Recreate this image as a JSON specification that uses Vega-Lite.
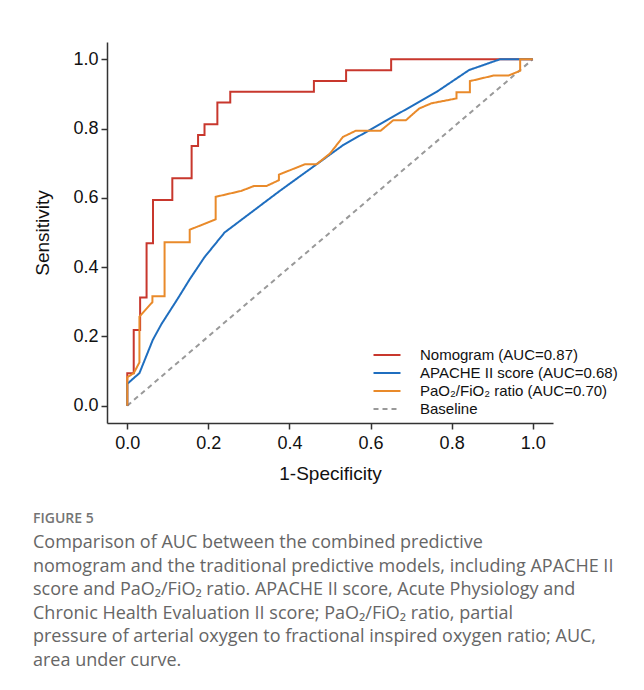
{
  "$schema": "https://vega.github.io/schema/vega-lite/v6.json",
  "width": 446,
  "height": 381,
  "autosize": {"type": "none"},
  "padding": {"left": 107, "top": 42, "right": 91, "bottom": 267},
  "background": "white",
  "title": {
    "text": "FIGURE 5",
    "subtitle": [
      "Comparison of AUC between the combined predictive",
      "nomogram and the traditional predictive models, including APACHE II",
      "score and PaO₂/FiO₂ ratio. APACHE II score, Acute Physiology and",
      "Chronic Health Evaluation II score; PaO₂/FiO₂ ratio, partial",
      "pressure of arterial oxygen to fractional inspired oxygen ratio; AUC,",
      "area under curve."
    ],
    "orient": "bottom",
    "anchor": "start",
    "frame": "group",
    "dx": -74,
    "offset": 29,
    "font": "Open Sans",
    "fontSize": 14,
    "fontWeight": 600,
    "color": "#747474",
    "subtitleFont": "Open Sans",
    "subtitleFontSize": 18,
    "subtitleFontWeight": "normal",
    "subtitleColor": "#666666",
    "subtitleLineHeight": 23.6,
    "subtitlePadding": 8
  },
  "data": {
    "values": [
      {"series": "Baseline", "i": 0, "x": 0, "y": 0},
      {"series": "Baseline", "i": 1, "x": 1, "y": 1},
      {"series": "Nomogram (AUC=0.87)", "i": 0, "x": 0, "y": 0},
      {"series": "Nomogram (AUC=0.87)", "i": 1, "x": 0, "y": 0.0938},
      {"series": "Nomogram (AUC=0.87)", "i": 2, "x": 0.0159, "y": 0.0938},
      {"series": "Nomogram (AUC=0.87)", "i": 3, "x": 0.0159, "y": 0.2188},
      {"series": "Nomogram (AUC=0.87)", "i": 4, "x": 0.0317, "y": 0.2188},
      {"series": "Nomogram (AUC=0.87)", "i": 5, "x": 0.0317, "y": 0.3125},
      {"series": "Nomogram (AUC=0.87)", "i": 6, "x": 0.0476, "y": 0.3125},
      {"series": "Nomogram (AUC=0.87)", "i": 7, "x": 0.0476, "y": 0.4688},
      {"series": "Nomogram (AUC=0.87)", "i": 8, "x": 0.0635, "y": 0.4688},
      {"series": "Nomogram (AUC=0.87)", "i": 9, "x": 0.0635, "y": 0.5938},
      {"series": "Nomogram (AUC=0.87)", "i": 10, "x": 0.1111, "y": 0.5938},
      {"series": "Nomogram (AUC=0.87)", "i": 11, "x": 0.1111, "y": 0.6563},
      {"series": "Nomogram (AUC=0.87)", "i": 12, "x": 0.1587, "y": 0.6563},
      {"series": "Nomogram (AUC=0.87)", "i": 13, "x": 0.1587, "y": 0.75},
      {"series": "Nomogram (AUC=0.87)", "i": 14, "x": 0.1746, "y": 0.75},
      {"series": "Nomogram (AUC=0.87)", "i": 15, "x": 0.1746, "y": 0.7813},
      {"series": "Nomogram (AUC=0.87)", "i": 16, "x": 0.1905, "y": 0.7813},
      {"series": "Nomogram (AUC=0.87)", "i": 17, "x": 0.1905, "y": 0.8125},
      {"series": "Nomogram (AUC=0.87)", "i": 18, "x": 0.2222, "y": 0.8125},
      {"series": "Nomogram (AUC=0.87)", "i": 19, "x": 0.2222, "y": 0.875},
      {"series": "Nomogram (AUC=0.87)", "i": 20, "x": 0.254, "y": 0.875},
      {"series": "Nomogram (AUC=0.87)", "i": 21, "x": 0.254, "y": 0.9063},
      {"series": "Nomogram (AUC=0.87)", "i": 22, "x": 0.4603, "y": 0.9063},
      {"series": "Nomogram (AUC=0.87)", "i": 23, "x": 0.4603, "y": 0.9375},
      {"series": "Nomogram (AUC=0.87)", "i": 24, "x": 0.5397, "y": 0.9375},
      {"series": "Nomogram (AUC=0.87)", "i": 25, "x": 0.5397, "y": 0.9688},
      {"series": "Nomogram (AUC=0.87)", "i": 26, "x": 0.6508, "y": 0.9688},
      {"series": "Nomogram (AUC=0.87)", "i": 27, "x": 0.6508, "y": 1},
      {"series": "Nomogram (AUC=0.87)", "i": 28, "x": 1, "y": 1},
      {"series": "APACHE II score (AUC=0.68)", "i": 0, "x": 0, "y": 0},
      {"series": "APACHE II score (AUC=0.68)", "i": 1, "x": 0, "y": 0.063},
      {"series": "APACHE II score (AUC=0.68)", "i": 2, "x": 0.03, "y": 0.094},
      {"series": "APACHE II score (AUC=0.68)", "i": 3, "x": 0.063, "y": 0.19},
      {"series": "APACHE II score (AUC=0.68)", "i": 4, "x": 0.084, "y": 0.235},
      {"series": "APACHE II score (AUC=0.68)", "i": 5, "x": 0.125, "y": 0.31},
      {"series": "APACHE II score (AUC=0.68)", "i": 6, "x": 0.154, "y": 0.365},
      {"series": "APACHE II score (AUC=0.68)", "i": 7, "x": 0.19, "y": 0.428},
      {"series": "APACHE II score (AUC=0.68)", "i": 8, "x": 0.24, "y": 0.5},
      {"series": "APACHE II score (AUC=0.68)", "i": 9, "x": 0.376, "y": 0.62},
      {"series": "APACHE II score (AUC=0.68)", "i": 10, "x": 0.532, "y": 0.752},
      {"series": "APACHE II score (AUC=0.68)", "i": 11, "x": 0.763, "y": 0.906},
      {"series": "APACHE II score (AUC=0.68)", "i": 12, "x": 0.843, "y": 0.969},
      {"series": "APACHE II score (AUC=0.68)", "i": 13, "x": 0.919, "y": 1},
      {"series": "APACHE II score (AUC=0.68)", "i": 14, "x": 1, "y": 1},
      {"series": "PaO₂/FiO₂ ratio (AUC=0.70)", "i": 0, "x": 0, "y": 0},
      {"series": "PaO₂/FiO₂ ratio (AUC=0.70)", "i": 1, "x": 0, "y": 0.082},
      {"series": "PaO₂/FiO₂ ratio (AUC=0.70)", "i": 2, "x": 0.016, "y": 0.094},
      {"series": "PaO₂/FiO₂ ratio (AUC=0.70)", "i": 3, "x": 0.03, "y": 0.125},
      {"series": "PaO₂/FiO₂ ratio (AUC=0.70)", "i": 4, "x": 0.03, "y": 0.257},
      {"series": "PaO₂/FiO₂ ratio (AUC=0.70)", "i": 5, "x": 0.062, "y": 0.299},
      {"series": "PaO₂/FiO₂ ratio (AUC=0.70)", "i": 6, "x": 0.062, "y": 0.316},
      {"series": "PaO₂/FiO₂ ratio (AUC=0.70)", "i": 7, "x": 0.092, "y": 0.316},
      {"series": "PaO₂/FiO₂ ratio (AUC=0.70)", "i": 8, "x": 0.092, "y": 0.472},
      {"series": "PaO₂/FiO₂ ratio (AUC=0.70)", "i": 9, "x": 0.154, "y": 0.472},
      {"series": "PaO₂/FiO₂ ratio (AUC=0.70)", "i": 10, "x": 0.154, "y": 0.508},
      {"series": "PaO₂/FiO₂ ratio (AUC=0.70)", "i": 11, "x": 0.218, "y": 0.538},
      {"series": "PaO₂/FiO₂ ratio (AUC=0.70)", "i": 12, "x": 0.218, "y": 0.603},
      {"series": "PaO₂/FiO₂ ratio (AUC=0.70)", "i": 13, "x": 0.281, "y": 0.62},
      {"series": "PaO₂/FiO₂ ratio (AUC=0.70)", "i": 14, "x": 0.312, "y": 0.634},
      {"series": "PaO₂/FiO₂ ratio (AUC=0.70)", "i": 15, "x": 0.343, "y": 0.634},
      {"series": "PaO₂/FiO₂ ratio (AUC=0.70)", "i": 16, "x": 0.374, "y": 0.651},
      {"series": "PaO₂/FiO₂ ratio (AUC=0.70)", "i": 17, "x": 0.374, "y": 0.667},
      {"series": "PaO₂/FiO₂ ratio (AUC=0.70)", "i": 18, "x": 0.438, "y": 0.697},
      {"series": "PaO₂/FiO₂ ratio (AUC=0.70)", "i": 19, "x": 0.467, "y": 0.697},
      {"series": "PaO₂/FiO₂ ratio (AUC=0.70)", "i": 20, "x": 0.5, "y": 0.728},
      {"series": "PaO₂/FiO₂ ratio (AUC=0.70)", "i": 21, "x": 0.532, "y": 0.776},
      {"series": "PaO₂/FiO₂ ratio (AUC=0.70)", "i": 22, "x": 0.564, "y": 0.794},
      {"series": "PaO₂/FiO₂ ratio (AUC=0.70)", "i": 23, "x": 0.625, "y": 0.794},
      {"series": "PaO₂/FiO₂ ratio (AUC=0.70)", "i": 24, "x": 0.656, "y": 0.824},
      {"series": "PaO₂/FiO₂ ratio (AUC=0.70)", "i": 25, "x": 0.687, "y": 0.824},
      {"series": "PaO₂/FiO₂ ratio (AUC=0.70)", "i": 26, "x": 0.72, "y": 0.858},
      {"series": "PaO₂/FiO₂ ratio (AUC=0.70)", "i": 27, "x": 0.75, "y": 0.873},
      {"series": "PaO₂/FiO₂ ratio (AUC=0.70)", "i": 28, "x": 0.812, "y": 0.887},
      {"series": "PaO₂/FiO₂ ratio (AUC=0.70)", "i": 29, "x": 0.812, "y": 0.905},
      {"series": "PaO₂/FiO₂ ratio (AUC=0.70)", "i": 30, "x": 0.845, "y": 0.905},
      {"series": "PaO₂/FiO₂ ratio (AUC=0.70)", "i": 31, "x": 0.845, "y": 0.937},
      {"series": "PaO₂/FiO₂ ratio (AUC=0.70)", "i": 32, "x": 0.903, "y": 0.953},
      {"series": "PaO₂/FiO₂ ratio (AUC=0.70)", "i": 33, "x": 0.94, "y": 0.953},
      {"series": "PaO₂/FiO₂ ratio (AUC=0.70)", "i": 34, "x": 0.969, "y": 0.967},
      {"series": "PaO₂/FiO₂ ratio (AUC=0.70)", "i": 35, "x": 0.969, "y": 1},
      {"series": "PaO₂/FiO₂ ratio (AUC=0.70)", "i": 36, "x": 1, "y": 1}
    ]
  },
  "mark": {"type": "line", "strokeWidth": 2, "clip": false},
  "encoding": {
    "x": {
      "field": "x",
      "type": "quantitative",
      "scale": {"domain": [-0.05, 1.05], "nice": false, "zero": false},
      "axis": {"values": [0, 0.2, 0.4, 0.6, 0.8, 1], "format": ".1f", "title": "1-Specificity", "labelPadding": 5, "titlePadding": 12}
    },
    "y": {
      "field": "y",
      "type": "quantitative",
      "scale": {"domain": [-0.05, 1.05], "nice": false, "zero": false},
      "axis": {"values": [0, 0.2, 0.4, 0.6, 0.8, 1], "format": ".1f", "title": "Sensitivity", "labelPadding": 3, "titlePadding": 20}
    },
    "color": {
      "field": "series",
      "type": "nominal",
      "scale": {
        "domain": ["Nomogram (AUC=0.87)", "APACHE II score (AUC=0.68)", "PaO₂/FiO₂ ratio (AUC=0.70)", "Baseline"],
        "range": ["#C8372D", "#1F6EBF", "#E98A2A", "#999999"]
      },
      "legend": {"orient": "none", "legendX": 270, "legendY": 303, "title": null}
    },
    "strokeDash": {
      "field": "series",
      "type": "nominal",
      "scale": {
        "domain": ["Nomogram (AUC=0.87)", "APACHE II score (AUC=0.68)", "PaO₂/FiO₂ ratio (AUC=0.70)", "Baseline"],
        "range": [[1, 0], [1, 0], [1, 0], [5, 4]]
      },
      "legend": {"orient": "none", "legendX": 270, "legendY": 303, "title": null}
    },
    "order": {"field": "i", "type": "quantitative"}
  },
  "config": {
    "view": {"stroke": null},
    "axis": {
      "grid": false,
      "domainColor": "#333333",
      "domainWidth": 1.5,
      "tickColor": "#333333",
      "tickWidth": 1.5,
      "tickSize": 6,
      "labelFont": "Liberation Sans",
      "labelFontSize": 18,
      "labelColor": "#111111",
      "titleFont": "Liberation Sans",
      "titleFontSize": 19,
      "titleFontWeight": "normal",
      "titleColor": "#111111"
    },
    "legend": {
      "symbolType": "M-1.5,0H1.5",
      "symbolSize": 324,
      "symbolStrokeWidth": 2,
      "labelFont": "Liberation Sans",
      "labelFontSize": 15,
      "labelColor": "#111111",
      "labelOffset": 23,
      "rowPadding": 0,
      "labelLimit": 400
    }
  }
}
